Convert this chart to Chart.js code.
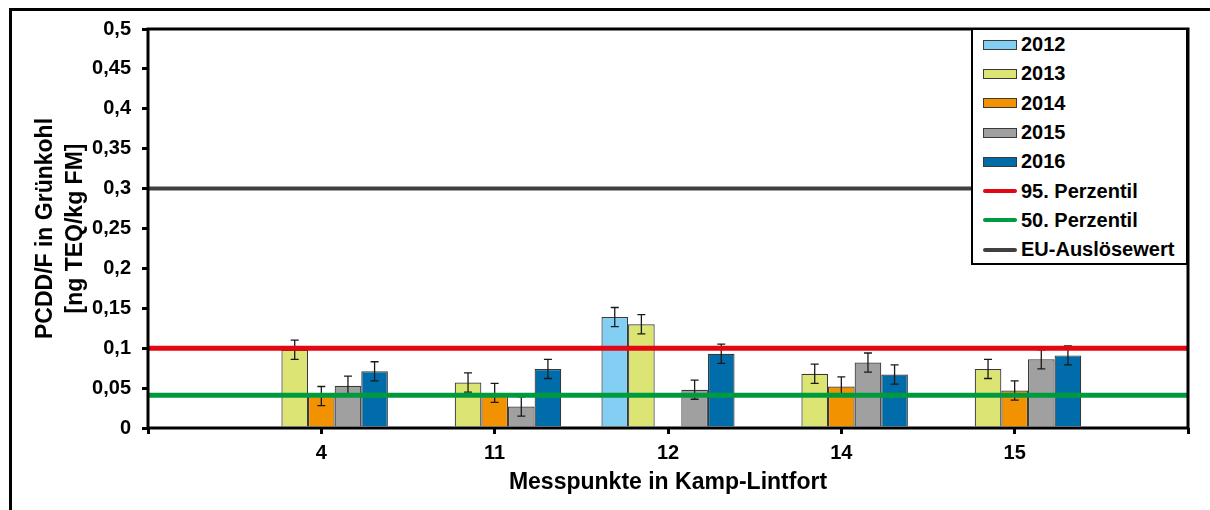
<!DOCTYPE html>
<html lang="de">
<head>
<meta charset="utf-8">
<script src="https://cdn.jsdelivr.net/npm/chart.js@4.4.1/dist/chart.umd.min.js"></script>
<style>
    html, body { margin: 0; padding: 0; background: #fff; }
    #cadre { position: relative; width: 1210px; height: 510px; overflow: hidden;
             font-family: 'Liberation Sans', Arial, sans-serif; }
    #bord { position: absolute; left: 9px; top: 8px; width: 1300px; height: 600px;
            border-top: 3px solid #000; border-left: 3px solid #000; }
    #zone { position: absolute; left: 0; top: 0; width: 1210px; height: 510px; }
    #legende { position: absolute; left: 971px; top: 28px; width: 217px; height: 237px;
               box-sizing: border-box; border: 2px solid #000; background: #fff; }
    .zeile { height: 29.3px; display: flex; align-items: center; font-weight: bold;
             font-size: 20px; color: #000; white-space: nowrap; }
    .muster { margin-left: 10px; margin-right: 4px; width: 34px; box-sizing: border-box; }
</style>
</head>
<body>
<div id="cadre">
    <div id="bord"></div>
    <div id="zone"><canvas id="grafik"></canvas></div>
    <div id="legende"></div>
</div>
<script>
// Messpunkte (leere Einträge am Rand, damit die Punkte auf den Teilstrichen liegen)
const messpunkte = ['', '4', '11', '12', '14', '15', ' '];

// Mittelwerte PCDD/F je Jahr [ng TEQ/kg FM]
const werte2012 = [null, null, null, 0.139, null, null, null];
const werte2013 = [null, 0.098, 0.057, 0.130, 0.068, 0.074, null];
const werte2014 = [null, 0.040, 0.044, null, 0.052, 0.047, null];
const werte2015 = [null, 0.053, 0.027, 0.048, 0.082, 0.086, null];
const werte2016 = [null, 0.071, 0.074, 0.093, 0.067, 0.091, null];

// Fehlerbalken (+/-)
const fehler2012 = [null, null, null, 0.012, null, null, null];
const fehler2013 = [null, 0.012, 0.012, 0.012, 0.012, 0.012, null];
const fehler2014 = [null, 0.012, 0.012, null, 0.012, 0.012, null];
const fehler2015 = [null, 0.012, 0.012, 0.012, 0.012, 0.012, null];
const fehler2016 = [null, 0.012, 0.012, 0.012, 0.012, 0.012, null];

// Beurteilungswerte, über die ganze Achse
const perzentil95 = [0.1, 0.1, 0.1, 0.1, 0.1, 0.1, 0.1];
const perzentil50 = [0.041, 0.041, 0.041, 0.041, 0.041, 0.041, 0.041];
const euAusloesewert = [0.3, 0.3, 0.3, 0.3, 0.3, 0.3, 0.3];

const yTicks = [0, 0.05, 0.1, 0.15, 0.2, 0.25, 0.3, 0.35, 0.4, 0.45, 0.5];

const jahre = [
    { label: '2012', data: werte2012, fehler: fehler2012, farbe: '#82CFF3' },
    { label: '2013', data: werte2013, fehler: fehler2013, farbe: '#DCE474' },
    { label: '2014', data: werte2014, fehler: fehler2014, farbe: '#F29200' },
    { label: '2015', data: werte2015, fehler: fehler2015, farbe: '#A0A0A0' },
    { label: '2016', data: werte2016, fehler: fehler2016, farbe: '#006DAA' }
];
const linien = [
    { label: '95. Perzentil', data: perzentil95, farbe: '#E30613', dicke: 5 },
    { label: '50. Perzentil', data: perzentil50, farbe: '#009A3E', dicke: 5 },
    { label: 'EU-Auslösewert', data: euAusloesewert, farbe: '#404040', dicke: 4 }
];

Chart.defaults.font.family = "'Liberation Sans', Arial, sans-serif";
Chart.defaults.font.weight = 'bold';
Chart.defaults.color = '#000';

// Fehlerbalken direkt nach jedem Balken-Datensatz zeichnen (also unter den Linien)
const fehlerBalken = {
    id: 'fehlerBalken',
    afterDatasetDraw(chart, args) {
        const ds = chart.data.datasets[args.index];
        if (!ds.fehler) return;
        const y = chart.scales.y;
        const ctx = chart.ctx;
        ctx.save();
        ctx.strokeStyle = '#1a1a1a';
        ctx.lineWidth = 1.3;
        args.meta.data.forEach(function (bar, i) {
            const v = ds.data[i], f = ds.fehler[i];
            if (v == null || f == null) return;
            const oben = y.getPixelForValue(v + f);
            const unten = y.getPixelForValue(v - f);
            ctx.beginPath();
            ctx.moveTo(bar.x, oben); ctx.lineTo(bar.x, unten);
            ctx.moveTo(bar.x - 4, oben); ctx.lineTo(bar.x + 4, oben);
            ctx.moveTo(bar.x - 4, unten); ctx.lineTo(bar.x + 4, unten);
            ctx.stroke();
        });
        ctx.restore();
    }
};

// Rahmen um die Zeichenfläche
const rahmen = {
    id: 'rahmen',
    afterDatasetsDraw(chart) {
        const a = chart.chartArea;
        const ctx = chart.ctx;
        ctx.save();
        ctx.strokeStyle = '#000';
        ctx.lineWidth = 3;
        ctx.strokeRect(a.left, a.top, a.right - a.left, a.bottom - a.top);
        ctx.restore();
    }
};

const datasets = jahre.map(function (j) {
    return {
        type: 'bar', label: j.label, data: j.data, fehler: j.fehler,
        backgroundColor: j.farbe, borderColor: '#3a3a3a', borderWidth: 1.2,
        order: 1, categoryPercentage: 0.768, barPercentage: 1
    };
}).concat(linien.map(function (l) {
    return {
        type: 'line', label: l.label, data: l.data,
        borderColor: l.farbe, borderWidth: l.dicke, pointRadius: 0,
        fill: false, order: 0
    };
}));

new Chart(document.getElementById('grafik'), {
    type: 'bar',
    data: { labels: messpunkte, datasets: datasets },
    plugins: [fehlerBalken, rahmen],
    options: {
        responsive: true,
        maintainAspectRatio: false,
        animation: false,
        layout: { padding: { left: 0, top: 29, right: 22, bottom: 0 } },
        plugins: { legend: { display: false }, tooltip: { enabled: false } },
        scales: {
            x: {
                offset: false,
                grid: { offset: false, drawOnChartArea: false, drawTicks: true,
                        tickLength: 6, color: '#000', lineWidth: 3 },
                border: { display: false },
                ticks: { autoSkip: false, maxRotation: 0, padding: 7,
                         font: { size: 20, weight: 'bold' } },
                title: { display: true, text: 'Messpunkte in Kamp-Lintfort',
                         font: { size: 23, weight: 'bold' }, padding: { top: 0, bottom: 14 } },
                afterFit: function (s) { s.height = 82; }
            },
            y: {
                min: 0, max: 0.5,
                afterBuildTicks: function (s) { s.ticks = yTicks.map(function (v) { return { value: v }; }); },
                grid: { drawOnChartArea: false, drawTicks: true, tickLength: 6,
                        color: '#000', lineWidth: 3 },
                border: { display: false },
                ticks: {
                    padding: 11,
                    font: { size: 20, weight: 'bold' },
                    callback: function (v) { return String(Number(v.toFixed(2))).replace('.', ','); }
                },
                title: { display: true, text: ['PCDD/F in Grünkohl', '[ng TEQ/kg FM]'],
                         font: { size: 23, weight: 'bold', lineHeight: 1.304 },
                         padding: { top: 31, bottom: 0 } },
                afterFit: function (s) { s.width = 148; }
            }
        }
    }
});

// Legende als HTML, aus denselben Listen erzeugt
const legende = document.getElementById('legende');
jahre.forEach(function (j) {
    const z = document.createElement('div');
    z.className = 'zeile';
    z.innerHTML = '<span class="muster" style="height:10px;background:' + j.farbe +
        ';border:1px solid #3a3a3a"></span>' + j.label;
    legende.appendChild(z);
});
linien.forEach(function (l) {
    const z = document.createElement('div');
    z.className = 'zeile';
    z.innerHTML = '<span class="muster" style="height:4px;border-radius:2px;background:' +
        l.farbe + '"></span>' + l.label;
    legende.appendChild(z);
});
</script>
</body>
</html>
